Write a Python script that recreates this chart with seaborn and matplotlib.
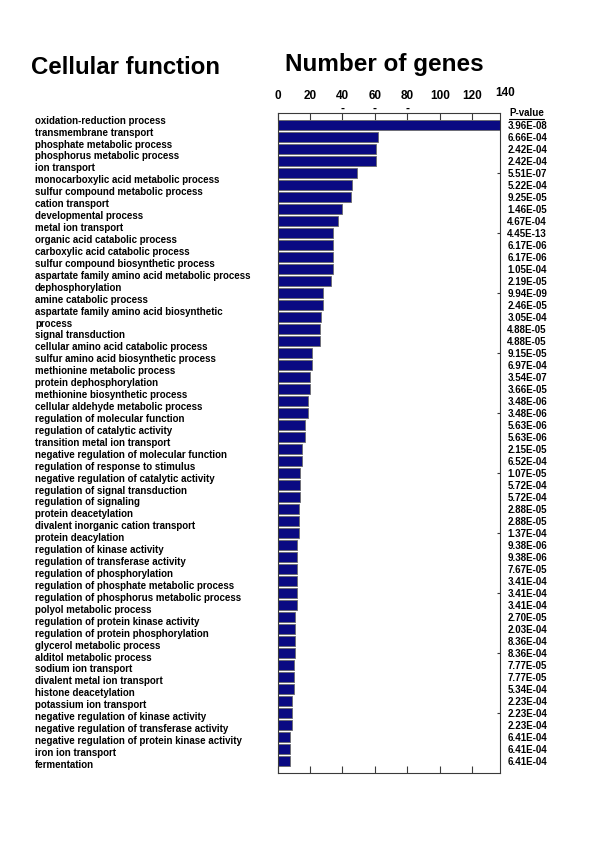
import textwrap
import matplotlib
matplotlib.use('Agg')
import matplotlib.pyplot as plt
import matplotlib.transforms as mtransforms
from matplotlib.lines import Line2D
import seaborn as sns

# GO terms, gene counts and enrichment p-values (top to bottom)
terms = [
    'oxidation-reduction process', 'transmembrane transport', 'phosphate metabolic process',
    'phosphorus metabolic process', 'ion transport', 'monocarboxylic acid metabolic process',
    'sulfur compound metabolic process', 'cation transport', 'developmental process',
    'metal ion transport', 'organic acid catabolic process', 'carboxylic acid catabolic process',
    'sulfur compound biosynthetic process', 'aspartate family amino acid metabolic process',
    'dephosphorylation', 'amine catabolic process',
    'aspartate family amino acid biosynthetic process', 'signal transduction',
    'cellular amino acid catabolic process', 'sulfur amino acid biosynthetic process',
    'methionine metabolic process', 'protein dephosphorylation', 'methionine biosynthetic process',
    'cellular aldehyde metabolic process', 'regulation of molecular function',
    'regulation of catalytic activity', 'transition metal ion transport',
    'negative regulation of molecular function', 'regulation of response to stimulus',
    'negative regulation of catalytic activity', 'regulation of signal transduction',
    'regulation of signaling', 'protein deacetylation', 'divalent inorganic cation transport',
    'protein deacylation', 'regulation of kinase activity', 'regulation of transferase activity',
    'regulation of phosphorylation', 'regulation of phosphate metabolic process',
    'regulation of phosphorus metabolic process', 'polyol metabolic process',
    'regulation of protein kinase activity', 'regulation of protein phosphorylation',
    'glycerol metabolic process', 'alditol metabolic process', 'sodium ion transport',
    'divalent metal ion transport', 'histone deacetylation', 'potassium ion transport',
    'negative regulation of kinase activity', 'negative regulation of transferase activity',
    'negative regulation of protein kinase activity', 'iron ion transport', 'fermentation',
]
genes = [137, 62, 61, 61, 49, 46, 45, 40, 37, 34, 34, 34, 34, 33, 28, 28, 27, 26, 26,
         21, 21, 20, 20, 19, 19, 17, 17, 15, 15, 14, 14, 14, 13, 13, 13, 12, 12, 12, 12,
         12, 12, 11, 11, 11, 11, 10, 10, 10, 9, 9, 9, 8, 8, 8]
pvalues = ['3.96E-08', '6.66E-04', '2.42E-04', '2.42E-04', '5.51E-07', '5.22E-04', '9.25E-05',
           '1.46E-05', '4.67E-04', '4.45E-13', '6.17E-06', '6.17E-06', '1.05E-04', '2.19E-05',
           '9.94E-09', '2.46E-05', '3.05E-04', '4.88E-05', '4.88E-05', '9.15E-05', '6.97E-04',
           '3.54E-07', '3.66E-05', '3.48E-06', '3.48E-06', '5.63E-06', '5.63E-06', '2.15E-05',
           '6.52E-04', '1.07E-05', '5.72E-04', '5.72E-04', '2.88E-05', '2.88E-05', '1.37E-04',
           '9.38E-06', '9.38E-06', '7.67E-05', '3.41E-04', '3.41E-04', '3.41E-04', '2.70E-05',
           '2.03E-04', '8.36E-04', '8.36E-04', '7.77E-05', '7.77E-05', '5.34E-04', '2.23E-04',
           '2.23E-04', '2.23E-04', '6.41E-04', '6.41E-04', '6.41E-04']
xticks = [0, 20, 40, 60, 80, 100, 120, 140]
xtick_labels = ['0\n ', '20\n ', '40\n-', '60\n-', '80\n-', '100\n ', '120\n ', '140']

sns.set_style('white')
plt.rcParams['font.family'] = ['Liberation Sans', 'DejaVu Sans']
plt.rcParams['font.weight'] = 'bold'
plt.rcParams['text.color'] = 'black'
plt.rcParams['xtick.color'] = 'black'
plt.rcParams['ytick.color'] = 'black'

W, H = 600, 857
fig = plt.figure(figsize=(W / 100, H / 100), dpi=100)
ax = fig.add_axes([277.5 / W, 1 - 772.7 / H, 227.2 / W, 659.4 / H])

sns.barplot(x=genes, y=terms, orient='h', color='#0a0a82', saturation=1,
            width=0.83, edgecolor='#6a6a6a', linewidth=0.6, ax=ax)

ax.set_xlim(0, 140)
ax.set_ylim(53.97, -0.97)
ax.set_xlabel('')
ax.set_ylabel('')

# frame ends a little short of 140, like the original
frame_end = 137.3
ax.spines['right'].set_position(('data', frame_end))
ax.spines['top'].set_bounds(0, frame_end)
ax.spines['bottom'].set_bounds(0, frame_end)
for sp in ax.spines.values():
    sp.set_linewidth(0.8)
    sp.set_color('#3a3a3a')

ax.set_xticks(xticks, labels=xtick_labels)
ax.tick_params(axis='x', top=True, bottom=True, labeltop=True, labelbottom=False,
               direction='in', length=4.8, width=0.8, color='#3a3a3a', pad=-1.2,
               labelsize=8.5, labelcolor='black')
for t in ax.xaxis.get_major_ticks():
    t.label2.set_linespacing(1.12)
    t.label2.set_fontweight('bold')
last = ax.xaxis.get_major_ticks()[-1]
last.tick1line.set_visible(False)
last.tick2line.set_visible(False)
# the "140" label sits a bit higher than the rest
last.label2.set_transform(last.label2.get_transform()
                          + mtransforms.ScaledTranslation(0, 0.155, fig.dpi_scale_trans))

ax.set_yticks(range(4, len(terms), 5), labels=[])
ax.tick_params(axis='y', left=False, right=True, labelleft=False, labelright=False,
               direction='in', length=2.5, width=0.8, color='#3a3a3a')

# p-values next to the bars
trans = mtransforms.blended_transform_factory(ax.transAxes, ax.transData)
for i, p in enumerate(pvalues):
    ax.text(1.0115, i + 0.05, p, transform=trans, ha='left', va='center',
            fontsize=7, fontweight='bold', color='black')

fig.text(509 / W, 1 - 113 / H, 'P-value', ha='left', va='center',
         fontsize=7, fontweight='bold')
fig.add_artist(Line2D([509 / W, 544 / W], [1 - 118.5 / H, 1 - 118.5 / H],
                      color='black', linewidth=0.8))

# term names as a text column on the left
k = 0
for term in terms:
    for line in textwrap.wrap(term, 46):
        fig.text(35 / W, 1 - (120.7 + 11.93 * k) / H, line, ha='left', va='center',
                 fontsize=7, fontweight='bold')
        k += 1

fig.text(31 / W, 1 - 68 / H, 'Cellular function', ha='left', va='center',
         fontsize=17.3, fontweight='bold')
fig.text(285 / W, 1 - 64 / H, 'Number of genes', ha='left', va='center',
         fontsize=17.5, fontweight='bold')

fig.savefig('out.png', dpi=100)
